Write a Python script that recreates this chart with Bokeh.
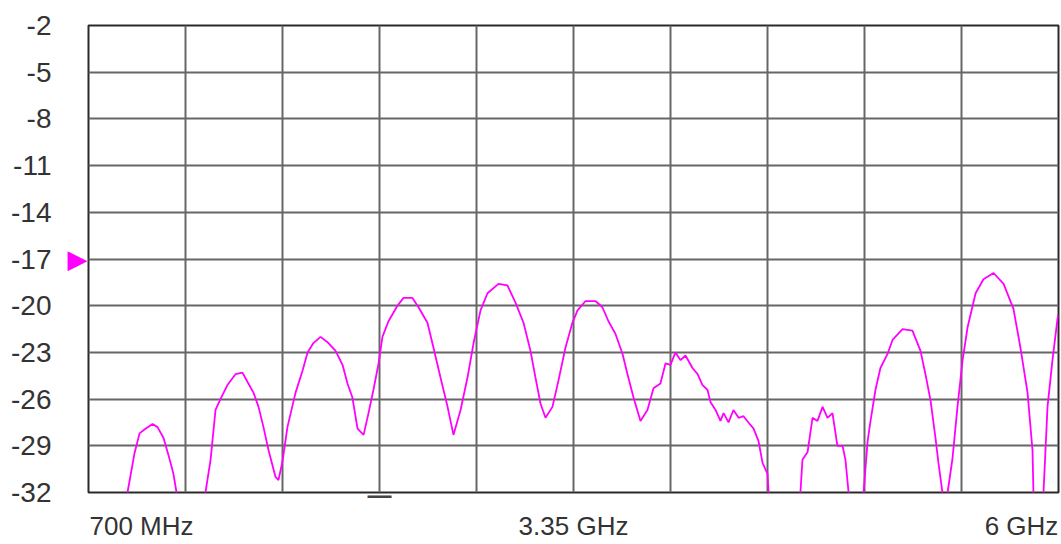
from bokeh.plotting import figure
from bokeh.models import Range1d, FixedTicker, LinearAxis
from bokeh.embed import file_html
from bokeh.resources import INLINE

# ---------------- data ----------------
freq_mhz = [875, 913, 951, 979, 1011, 1050, 1077, 1110, 1137, 1164, 1181, 1257,
            1339, 1367, 1394, 1421, 1459, 1503, 1541, 1569, 1602, 1629, 1656, 1684,
            1722, 1738, 1760, 1787, 1831, 1869, 1897, 1929, 1968, 2011, 2050, 2088,
            2115, 2142, 2170, 2203, 2230, 2257, 2285, 2306, 2339, 2388, 2421, 2470,
            2503, 2552, 2585, 2623, 2662, 2694, 2733, 2771, 2804, 2842, 2880, 2940,
            2989, 3033, 3077, 3115, 3142, 3170, 3197, 3235, 3268, 3306, 3344, 3372,
            3416, 3470, 3508, 3541, 3579, 3618, 3645, 3678, 3716, 3754, 3787, 3825,
            3853, 3880, 3907, 3935, 3962, 4000, 4028, 4055, 4082, 4099, 4126, 4153,
            4170, 4197, 4224, 4252, 4279, 4306, 4334, 4361, 4383, 4410, 4416, 4503,
            4590, 4601, 4629, 4656, 4683, 4711, 4738, 4765, 4792, 4820, 4836, 4853,
            4891, 4935, 4957, 4973, 5000, 5027, 5066, 5093, 5148, 5202, 5246, 5273,
            5301, 5328, 5344, 5366, 5380, 5394, 5421, 5448, 5476, 5503, 5547, 5590,
            5645, 5700, 5754, 5792, 5831, 5858, 5863, 5891, 5918, 5940, 5967, 5995,
            6000]
level_db = [-34, -32, -29.5, -28.2, -27.9, -27.6, -27.8, -28.5, -29.6, -30.8, -32, -34,
            -32, -29.9, -26.7, -26.0, -25.1, -24.4, -24.3, -24.9, -25.6, -26.5, -27.8, -29.3,
            -31.0, -31.2, -30.0, -27.8, -25.6, -24.2, -23.0, -22.4, -22.0, -22.4, -22.9, -23.8,
            -25.0, -25.9, -27.9, -28.3, -26.9, -25.4, -23.7, -22.0, -21.0, -20.0, -19.5, -19.5,
            -20.1, -21.1, -22.7, -24.6, -26.5, -28.3, -26.7, -24.6, -22.4, -20.3, -19.2, -18.6,
            -18.7, -19.8, -21.1, -22.9, -24.6, -26.3, -27.2, -26.5, -24.8, -22.7, -21.1, -20.3,
            -19.7, -19.7, -20.1, -21.0, -21.8, -23.1, -24.4, -25.9, -27.4, -26.7, -25.3, -25.0,
            -23.7, -23.8, -23.0, -23.5, -23.2, -24.0, -24.4, -25.1, -25.4, -26.2, -26.7, -27.4,
            -26.9, -27.5, -26.7, -27.2, -27.1, -27.5, -27.9, -28.7, -30.1, -30.8, -32, -34,
            -32, -29.9, -29.4, -27.2, -27.4, -26.5, -27.2, -26.9, -29.0, -29.0, -29.9, -32,
            -34, -32, -28.7, -27.4, -25.4, -24.0, -23.1, -22.2, -21.5, -21.6, -22.9, -24.4,
            -26.1, -28.5, -30.1, -32, -34, -32, -29.8, -26.5, -23.5, -21.4, -19.2, -18.3,
            -17.9, -18.6, -20.2, -22.7, -25.6, -29.3, -32, -34, -32, -26.5, -23.5, -20.8,
            -20.6]

y_ticks = [-2, -5, -8, -11, -14, -17, -20, -23, -26, -29, -32]
y_tick_labels = ["-2", "-5", "-8", "-11", "-14", "-17", "-20", "-23", "-26", "-29", "-32"]
x_grid_mhz = [700, 1230, 1760, 2290, 2820, 3350, 3880, 4410, 4940, 5470, 6000]
x_label_txt = ["700 MHz", "3.35 GHz", "6 GHz"]
x_label_anchor_mhz = [700, 3350, 6000]
ref_level_db = -17
center_marker_mhz = 2290

x_lo, x_hi = 700, 6000
y_lo, y_hi = -32, -2

# ---------------- layout ----------------
W, H = 1061, 544
left_b, right_b, top_b, bottom_b = 88, 3, 25, 52
frame_w = W - left_b - right_b
mhz_per_px = (x_hi - x_lo) / frame_w
# half text widths (px) so that the first label starts at the frame's left edge
# and the last ends at its right edge
label_half_px = [53, 0, -37]
x_label_pos = [a + h * mhz_per_px for a, h in zip(x_label_anchor_mhz, label_half_px)]


def bare(axis):
    axis.axis_line_color = None
    axis.major_tick_line_color = None
    axis.minor_tick_line_color = None
    axis.major_tick_out = 0
    axis.major_tick_in = 0


p = figure(width=W, height=H, output_backend="svg", toolbar_location=None,
           x_range=Range1d(x_lo, x_hi), y_range=Range1d(y_lo, y_hi),
           y_axis_location=None,
           min_border_left=left_b, min_border_right=right_b, min_border_top=top_b,
           min_border_bottom=bottom_b)
p.background_fill_color = "white"
p.border_fill_color = "white"
p.outline_line_color = "#2a2a2a"
p.outline_line_width = 2

p.xgrid.ticker = FixedTicker(ticks=x_grid_mhz)
p.ygrid.ticker = FixedTicker(ticks=y_ticks)
for g in (p.xgrid, p.ygrid):
    g.grid_line_color = "#666666"
    g.grid_line_width = 2

# reference-level marker (innermost left axis)
tri_axis = LinearAxis(ticker=FixedTicker(ticks=[ref_level_db]),
                      major_label_overrides={ref_level_db: "\u25B6"})
bare(tri_axis)
tri_axis.major_label_standoff = 1
tri_axis.major_label_text_font = "DejaVu Sans"
tri_axis.major_label_text_font_size = "26px"
tri_axis.major_label_text_color = "#ff00ff"
p.add_layout(tri_axis, "left")

# dB tick labels
lab_axis = LinearAxis(ticker=FixedTicker(ticks=y_ticks),
                      major_label_overrides=dict(zip(y_ticks, y_tick_labels)))
bare(lab_axis)
lab_axis.major_label_standoff = 13
lab_axis.major_label_text_font = "Liberation Sans"
lab_axis.major_label_text_font_size = "28px"
lab_axis.major_label_text_color = "#333333"
p.add_layout(lab_axis, "left")

# small centre marker just below the frame (innermost bottom axis)
dash_axis = LinearAxis(ticker=FixedTicker(ticks=[center_marker_mhz]),
                       major_label_overrides={center_marker_mhz: "\u2014"})
bare(dash_axis)
dash_axis.major_label_standoff = -12
dash_axis.major_label_text_font = "Liberation Sans"
dash_axis.major_label_text_font_size = "24px"
dash_axis.major_label_text_font_style = "bold"
dash_axis.major_label_text_color = "#444444"

# frequency labels
xa = p.xaxis[0]
xa.ticker = FixedTicker(ticks=x_label_pos)
xa.major_label_overrides = dict(zip(x_label_pos, x_label_txt))
bare(xa)
xa.major_label_standoff = 0
xa.major_label_text_font = "Liberation Sans"
xa.major_label_text_font_size = "26px"
xa.major_label_text_color = "#333333"
p.below = [dash_axis, xa]

p.line(freq_mhz, level_db, line_color="#ff00ff", line_width=1.8)

open("out.html", "w").write(file_html(p, INLINE))
